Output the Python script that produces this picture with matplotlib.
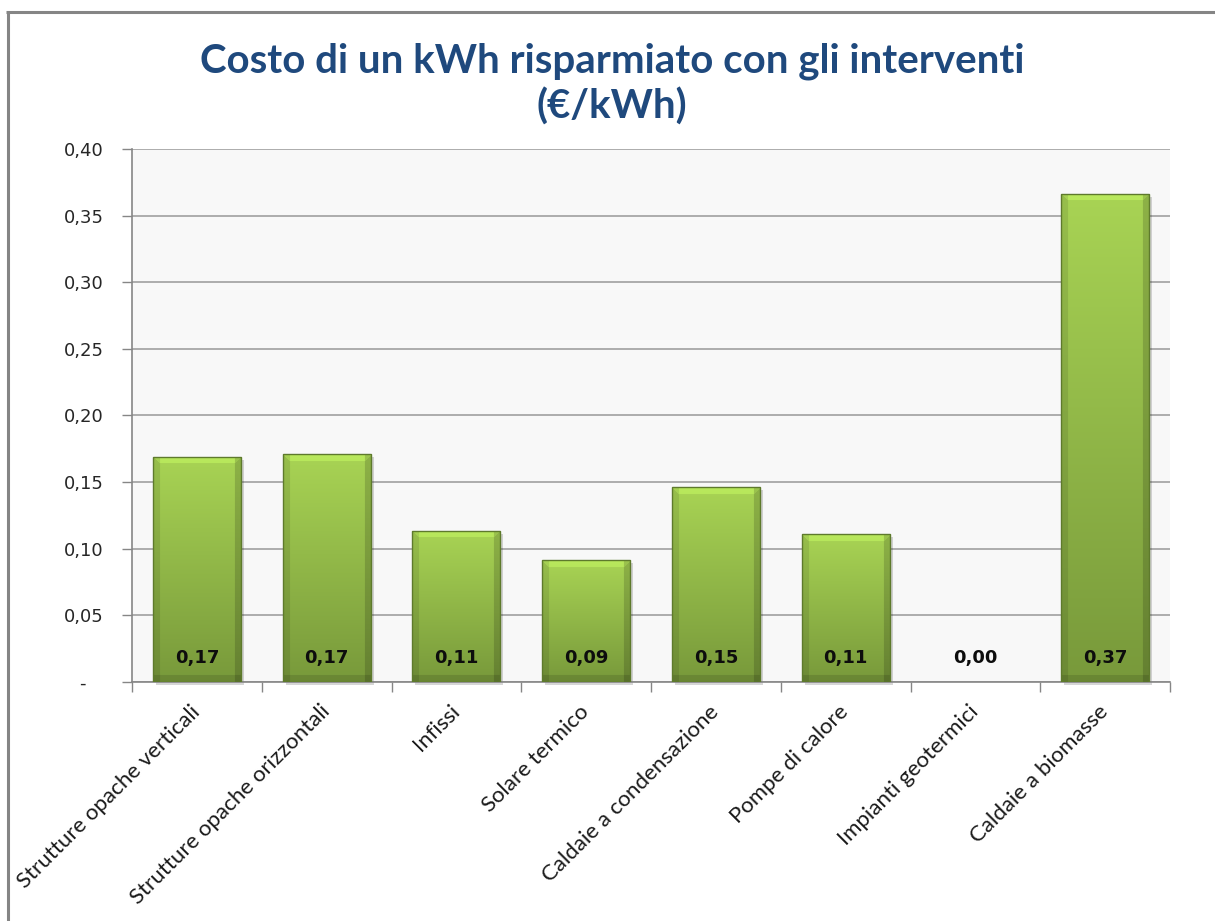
import matplotlib
matplotlib.use("Agg")
import matplotlib.pyplot as plt
from matplotlib.patches import Rectangle
from matplotlib.ticker import FixedLocator, FuncFormatter
import numpy as np

# costo del kWh risparmiato per tipo di intervento (€/kWh)
categories = [
    "Strutture opache verticali",
    "Strutture opache orizzontali",
    "Infissi",
    "Solare termico",
    "Caldaie a condensazione",
    "Pompe di calore",
    "Impianti geotermici",
    "Caldaie a biomasse",
]
costs = [0.169, 0.171, 0.1135, 0.0915, 0.146, 0.111, 0.0, 0.3665]
y_ticks = [0.0, 0.05, 0.10, 0.15, 0.20, 0.25, 0.30, 0.35, 0.40]

W, H = 1215, 921
fig = plt.figure(figsize=(W / 100, H / 100), dpi=100)
fig.patch.set_facecolor("white")

# area del grafico in pixel
ax_l, ax_r, ax_t, ax_b = 132, 1170, 149, 682
ax = fig.add_axes([ax_l / W, 1 - ax_b / H, (ax_r - ax_l) / W, (ax_b - ax_t) / H])
ax.set_facecolor("#f8f8f8")

# cornice esterna (solo lato alto e sinistro visibili)
fig.add_artist(plt.Line2D([7.5 / W, 7.5 / W], [0, 1 - 12 / H], transform=fig.transFigure,
                          color="#858585", lw=2.2, solid_capstyle="butt"))
fig.add_artist(plt.Line2D([6.4 / W, 1], [1 - 12 / H, 1 - 12 / H], transform=fig.transFigure,
                          color="#858585", lw=2.2, solid_capstyle="butt"))

x = np.arange(len(categories))
bar_w = 0.68
bars = ax.bar(x, costs, width=bar_w, color="none", edgecolor="none", zorder=3)

ax.set_xlim(-0.5, len(categories) - 0.5)
ax.set_ylim(0, 0.40)

px_x = (ax_r - ax_l) / len(categories)   # pixel per unità x
px_y = (ax_b - ax_t) / 0.40               # pixel per unità y

top_col = np.array([0.66, 0.83, 0.33])
bot_col = np.array([0.47, 0.60, 0.23])

for rect, v in zip(bars, costs):
    if v <= 0:
        continue
    x0 = rect.get_x()
    x1 = x0 + rect.get_width()
    hp = max(int(v * px_y), 2)
    wp = int(rect.get_width() * px_x)
    # ombra
    ax.add_patch(Rectangle((x0 + 3 / px_x, -3 / px_y), x1 - x0, v,
                           facecolor="#000000", alpha=0.16, edgecolor="none",
                           zorder=2, clip_on=False))
    t = np.linspace(0, 1, hp)[:, None, None]
    img = top_col * (1 - t) + bot_col * t
    img = np.repeat(img, wp, axis=1)
    # smusso: bordi laterali e inferiore più scuri, bordo alto più chiaro
    b = 7
    img[:, :b] *= 0.90
    img[:, -b:] *= 0.84
    img[-b:, :] *= 0.88
    for r in range(min(b, hp)):
        img[r, r:wp - r] = np.clip(img[r, r:wp - r] * 1.10, 0, 1)
    im = ax.imshow(img, extent=[x0, x1, 0, v], aspect="auto", zorder=3,
                   interpolation="bilinear")
    im.set_clip_path(rect)
    ax.add_patch(Rectangle((x0, 0), x1 - x0, v, facecolor="none",
                           edgecolor="#5e7a2c", lw=1.0, zorder=4))

ax.set_xlim(-0.5, len(categories) - 0.5)
ax.set_ylim(0, 0.40)

# etichette valore alla base delle barre
for xi, v in zip(x, costs):
    ax.annotate(f"{v:.2f}".replace(".", ","), (xi, 0), xytext=(0, 11),
                textcoords="offset points", ha="center", va="bottom",
                fontsize=13, fontweight="bold", family="DejaVu Sans",
                color="#0d0d0d", zorder=6)

# asse y
ax.yaxis.set_major_locator(FixedLocator(y_ticks))
ax.yaxis.set_major_formatter(FuncFormatter(
    lambda v, p: "-   " if abs(v) < 1e-9 else f"{v:.2f}".replace(".", ",")))
ax.tick_params(axis="y", length=7, width=1, color="#868686", pad=13.5,
               labelsize=13, labelcolor="#262626")
for lab in ax.get_yticklabels():
    lab.set_family("DejaVu Sans")
ax.grid(axis="y", color="#a0a0a0", lw=1.2, zorder=1)
ax.set_axisbelow(True)

# asse x: etichette al centro, tacche ai confini delle categorie
ax.set_xticks(x)
ax.set_xticklabels(categories, rotation=45, ha="right", va="center",
                   rotation_mode="anchor", fontsize=16, family="Lato",
                   color="#1a1a1a")
ax.tick_params(axis="x", length=0, pad=19)
ax.set_xticks(np.arange(-0.5, len(categories)), minor=True)
ax.tick_params(axis="x", which="minor", length=7, width=1, color="#868686")

for s in ["top", "right"]:
    ax.spines[s].set_visible(False)
for s in ["left", "bottom"]:
    ax.spines[s].set_color("#868686")
    ax.spines[s].set_linewidth(1.2)

fig.text(612 / W, 1 - 72 / H, "Costo di un kWh risparmiato con gli interventi",
         ha="center", va="baseline", fontsize=29, fontweight="bold",
         family="Lato", color="#1f497d")
fig.text(612 / W, 1 - 119 / H, "(€/kWh)", ha="center", va="baseline",
         fontsize=29, fontweight="bold", family="Lato", color="#1f497d")

fig.savefig("out.png", dpi=100)
